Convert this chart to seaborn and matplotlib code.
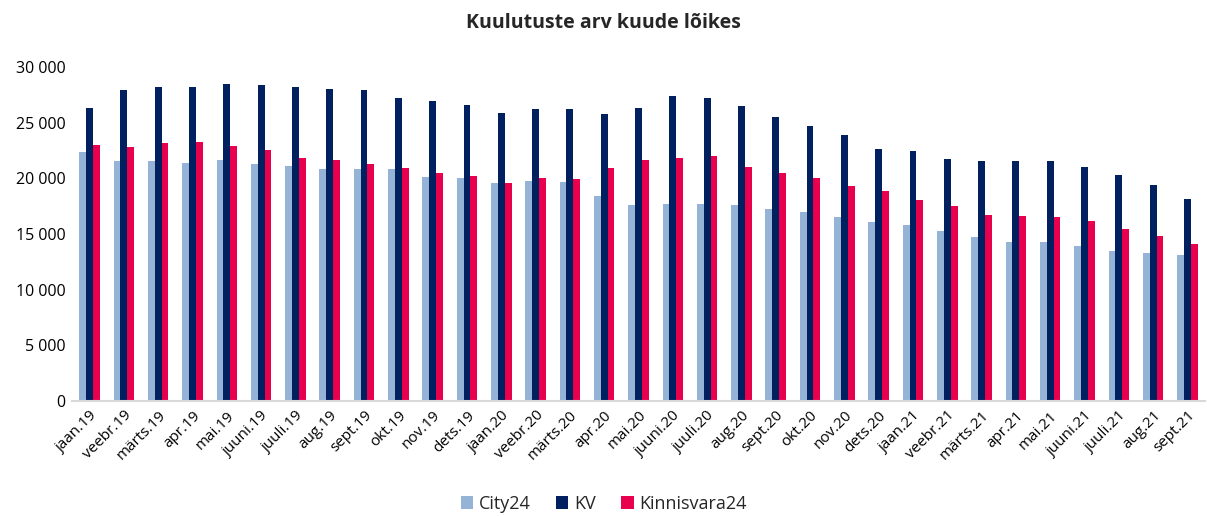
import pandas as pd
import matplotlib
matplotlib.use("Agg")
import matplotlib.pyplot as plt
import seaborn as sns
from matplotlib.ticker import FuncFormatter

months = ["jaan.19", "veebr.19", "märts.19", "apr.19", "mai.19", "juuni.19",
          "juuli.19", "aug.19", "sept.19", "okt.19", "nov.19", "dets.19",
          "jaan.20", "veebr.20", "märts.20", "apr.20", "mai.20", "juuni.20",
          "juuli.20", "aug.20", "sept.20", "okt.20", "nov.20", "dets.20",
          "jaan.21", "veebr.21", "märts.21", "apr.21", "mai.21", "juuni.21",
          "juuli.21", "aug.21", "sept.21"]

city24 = [22370, 21590, 21560, 21410, 21650, 21290, 21080, 20810, 20840, 20810,
          20120, 20030, 19550, 19760, 19670, 18410, 17570, 17660, 17690, 17570,
          17220, 16980, 16530, 16110, 15810, 15300, 14700, 14310, 14310, 13950,
          13470, 13270, 13110]
kv = [26290, 27900, 28230, 28200, 28470, 28380, 28200, 28000, 27900, 27240,
      26980, 26560, 25870, 26200, 26200, 25780, 26290, 27420, 27180, 26500,
      25510, 24700, 23860, 22600, 22460, 21740, 21560, 21530, 21560, 21050,
      20270, 19380, 18120]
kinnisvara24 = [22970, 22790, 23170, 23260, 22900, 22550, 21860, 21650, 21320, 20950,
                20480, 20240, 19610, 20000, 19940, 20900, 21680, 21860, 21980, 20990,
                20480, 20030, 19310, 18830, 18020, 17520, 16680, 16590, 16500, 16140,
                15450, 14790, 14070]

series = ["City24", "KV", "Kinnisvara24"]
colors = ["#95B3D7", "#002060", "#E8004F"]

df = pd.DataFrame({
    "kuu": months * 3,
    "arv": city24 + kv + kinnisvara24,
    "portaal": [s for s in series for _ in months],
})

sns.set_style("white")
plt.rcParams["font.family"] = ["Open Sans", "DejaVu Sans"]

fig, ax = plt.subplots(figsize=(12.07, 5.16), dpi=100)
fig.subplots_adjust(left=0.06, right=0.998, top=0.870, bottom=0.223)

sns.barplot(data=df, x="kuu", y="arv", hue="portaal", palette=colors,
            width=0.6, gap=0, ax=ax, saturation=1, linewidth=0)

ax.set_ylim(0, 30000)
ax.set_xlim(-0.5, 32.5)
ax.set_yticks(range(0, 30001, 5000))
ax.yaxis.set_major_formatter(FuncFormatter(lambda v, p: f"{int(v):,}".replace(",", " ")))
ax.set_xlabel("")
ax.set_ylabel("")
plt.setp(ax.get_xticklabels(), rotation=45, ha="right", rotation_mode="anchor",
         fontsize=11, color="black")
plt.setp(ax.get_yticklabels(), fontsize=11.5, color="black")
ax.tick_params(axis="both", length=0, pad=5)

for side in ["top", "right", "left"]:
    ax.spines[side].set_visible(False)
ax.spines["bottom"].set_color("#d9d9d9")
ax.spines["bottom"].set_linewidth(1.5)

fig.suptitle("Kuulutuste arv kuude lõikes", fontsize=14, fontweight="bold", y=0.975)

handles, labels = ax.get_legend_handles_labels()
ax.legend_.remove()
fig.legend(handles, labels, loc="lower center", ncol=3, frameon=False,
           bbox_to_anchor=(0.5, -0.025), fontsize=13, handlelength=0.7,
           handleheight=0.7, handletextpad=0.3, columnspacing=1.4)

fig.savefig("out.png", dpi=100)
